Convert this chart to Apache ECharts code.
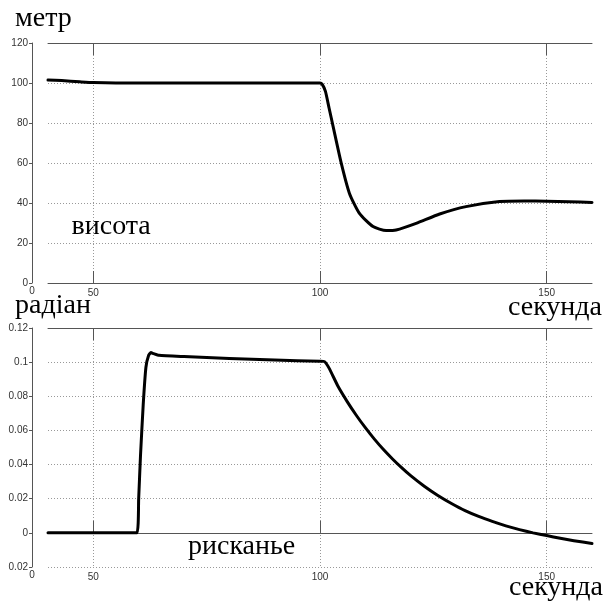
<!DOCTYPE html>
<html>
<head>
<meta charset="utf-8">
<script src="https://cdn.jsdelivr.net/npm/echarts@6/dist/echarts.min.js"></script>
<style>
html,body{margin:0;padding:0;background:#fff;}
#chart{width:606px;height:606px;}
</style>
</head>
<body>
<div id="chart"></div>
<script>
// ---- data ----
var xTicks = [50, 100, 150];
var altTime = [40, 43, 47, 50, 55, 60, 100, 100.5, 101.2, 102, 102.9, 104.7, 106.5, 108.7, 111.7, 114.6, 116.8, 121.2, 126.4, 132.2, 139.6, 145, 150, 155, 160];
var altValue = [101.5, 101.2, 100.6, 100.2, 100, 100, 100, 99.3, 95.8, 87.5, 78.2, 59.8, 44.8, 34.8, 28.2, 26.2, 26.5, 29.8, 34.5, 38.2, 40.7, 41.0, 40.9, 40.6, 40.3];
var yawTime = [40, 59.6, 60.0, 60.4, 61.0, 61.6, 62.2, 62.7, 63.3, 64.5, 70, 80, 90, 100, 101, 102, 104, 106, 108, 110, 112, 114, 116, 118, 120, 123, 126, 129, 132, 135, 138, 141, 144, 147, 150, 153, 156, 160];
var yawValue = [0, 0, 0.02, 0.045, 0.075, 0.097, 0.104, 0.1056, 0.105, 0.104, 0.1033, 0.1022, 0.1012, 0.1005, 0.1003, 0.0965, 0.0857, 0.0769, 0.0689, 0.0616, 0.0549, 0.0488, 0.0433, 0.0382, 0.0335, 0.0273, 0.0219, 0.0172, 0.0130, 0.0096, 0.0067, 0.0041, 0.0019, 0.0000, -0.0016, -0.0032, -0.0046, -0.0062];

function zip(a, b) { return a.map(function (v, i) { return [v, b[i]]; }); }

var axisColor = '#555';
var labelStyle = { fontSize: 10, color: '#333', fontFamily: 'Liberation Sans, Arial, sans-serif' };
var dotted = { show: true, lineStyle: { type: [1, 2], color: '#999', width: 1 } };

function xAxes(g) {
  return [
    {
      gridIndex: g, type: 'value', min: 40, max: 160, position: 'bottom',
      axisLine: { show: true, lineStyle: { color: axisColor, width: 1 } },
      axisTick: { show: true, inside: true, length: 12, customValues: xTicks, lineStyle: { color: axisColor } },
      axisLabel: Object.assign({ customValues: xTicks, margin: 5 }, labelStyle),
      splitLine: dotted
    },
    {
      gridIndex: g, type: 'value', min: 40, max: 160, position: 'top',
      axisLine: { show: true, lineStyle: { color: axisColor, width: 1 } },
      axisTick: { show: true, inside: true, length: 12, customValues: xTicks, lineStyle: { color: axisColor } },
      axisLabel: { show: false },
      splitLine: { show: false }
    }
  ];
}

function yAxis(g, min, max, interval, fmt) {
  return {
    gridIndex: g, type: 'value', min: min, max: max, interval: interval, offset: 16,
    axisLine: { show: true, lineStyle: { color: axisColor, width: 1 } },
    axisTick: { show: true, length: 3, lineStyle: { color: axisColor } },
    axisLabel: Object.assign({ margin: 4, formatter: fmt }, labelStyle),
    splitLine: dotted
  };
}

var serif = '28px "Liberation Serif", "Times New Roman", serif';
function txt(x, y, s, align) {
  return { type: 'text', x: x, y: y, style: { text: s, font: serif, fill: '#000', align: align || 'left', verticalAlign: 'middle' } };
}
function small(x, y, s) {
  return { type: 'text', x: x, y: y, style: { text: s, font: '10px "Liberation Sans", Arial, sans-serif', fill: '#333', align: 'center', verticalAlign: 'middle' } };
}

var chart = echarts.init(document.getElementById('chart'));
chart.setOption({
  animation: false,
  backgroundColor: '#fff',
  grid: [
    { left: 48, top: 43, width: 544, height: 240 },
    { left: 48, top: 328, width: 544, height: 239 }
  ],
  xAxis: xAxes(0).concat(xAxes(1)),
  yAxis: [
    yAxis(0, 0, 120, 20, function (v) { return String(v); }),
    yAxis(1, -0.02, 0.12, 0.02, function (v) { return String(Math.round(Math.abs(v) * 100) / 100); })
  ],
  series: [
    { type: 'line', xAxisIndex: 0, yAxisIndex: 0, data: zip(altTime, altValue), showSymbol: false, smooth: 0.2, lineStyle: { color: '#000', width: 3, join: 'round', cap: 'round' } },
    { type: 'line', xAxisIndex: 2, yAxisIndex: 1, data: zip(yawTime, yawValue), showSymbol: false, smooth: 0.15, lineStyle: { color: '#000', width: 3, join: 'round', cap: 'round' } }
  ],
  graphic: [
    txt(15, 18.5, 'метр'),
    txt(15, 305.5, 'радіан'),
    txt(602, 307.5, 'секунда', 'right'),
    txt(603, 587.5, 'секунда', 'right'),
    txt(71.5, 226.5, 'висота'),
    txt(188, 546.5, 'рисканье'),
    small(32, 291.5, '0'),
    small(32, 575.5, '0')
  ]
});
</script>
</body>
</html>
